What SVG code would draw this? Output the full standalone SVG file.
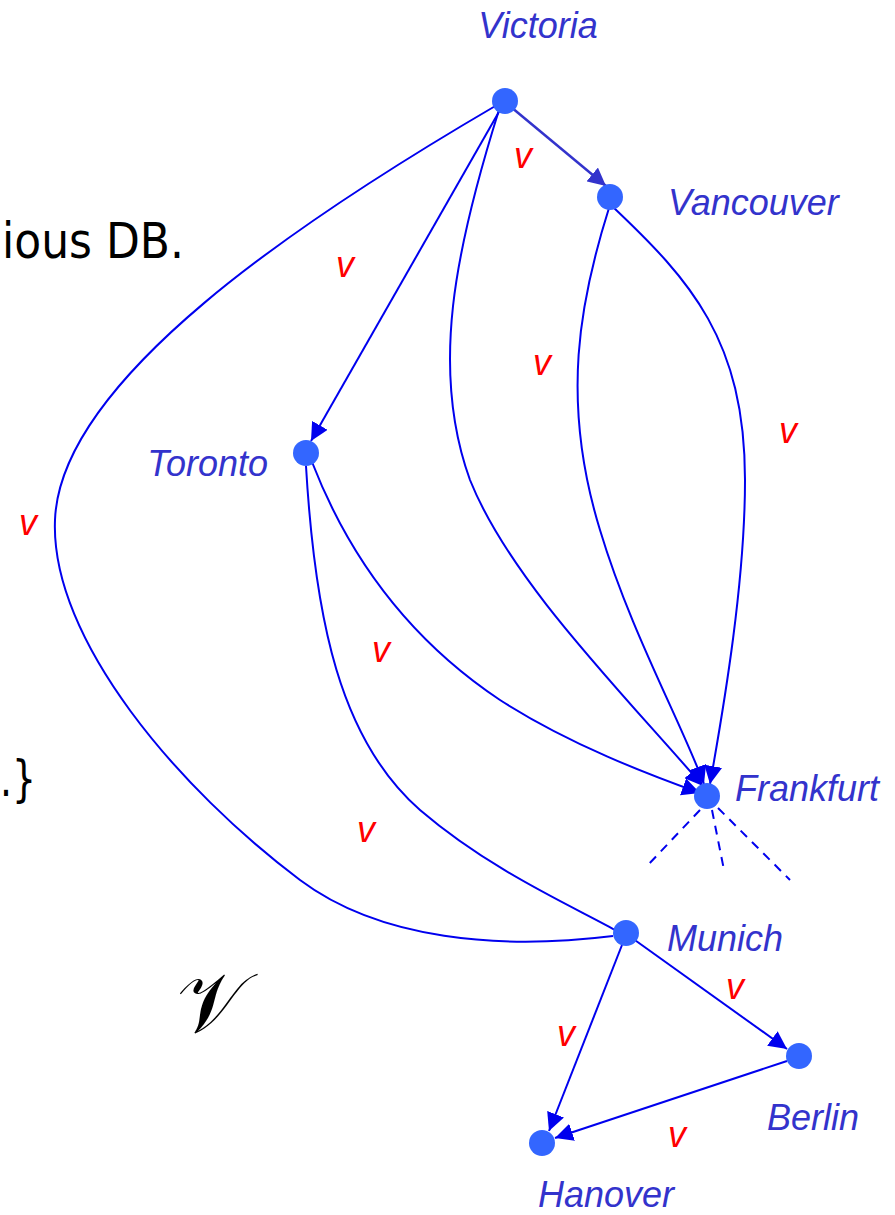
<svg xmlns="http://www.w3.org/2000/svg" width="895" height="1215" viewBox="0 0 895 1215">
<style>
.e{fill:none;stroke:#0000ee;stroke-width:2}
.d{fill:none;stroke:#0000ee;stroke-width:2;stroke-dasharray:9,7}
.n{fill:#3366ff}
.lb{font-family:"Liberation Sans",Arial,sans-serif;font-style:italic;font-size:36px;fill:#3333cc}
.v{font-family:"Liberation Sans",Arial,sans-serif;font-style:italic;font-size:36px;fill:#ff0000;text-anchor:middle}
.t{font-family:"DejaVu Sans",Verdana,sans-serif;font-size:50px;fill:#000}
</style>
<defs>
<marker id="a" markerUnits="userSpaceOnUse" markerWidth="20" markerHeight="18" refX="18" refY="9" orient="auto"><path d="M0,0 L18,9 L0,18 Z" fill="#0000ee"/></marker>
<marker id="a2" markerUnits="userSpaceOnUse" markerWidth="20" markerHeight="18" refX="18" refY="9" orient="auto"><path d="M0,0 L18,9 L0,18 Z" fill="#3333cc"/></marker>
</defs>
<rect width="895" height="1215" fill="#fff"/>
<text class="t" x="2" y="258" textLength="182" lengthAdjust="spacingAndGlyphs">ious DB.</text>
<text class="t" x="0" y="796" textLength="36" lengthAdjust="spacingAndGlyphs">.}</text>
<text x="212" y="1032" text-anchor="middle" font-family="DejaVu Sans, sans-serif" font-size="84">𝒱</text>
<g id="connectors">
<line x1="511" y1="107" x2="606" y2="186" stroke="#3333cc" stroke-width="2.5" marker-end="url(#a2)"/>
<line class="e" x1="500" y1="110" x2="311" y2="441" marker-end="url(#a)"/>
<path class="e" d="M499 110 C455 250,430 370,470 480 C510 580,620 690,703 786" marker-end="url(#a)"/>
<path class="e" d="M609 208 C580 300,560 400,600 530 C630 630,680 720,704 784" marker-end="url(#a)"/>
<path class="e" d="M613 207 C690 280,745 340,745 480 C745 580,725 700,710 784" marker-end="url(#a)"/>
<path class="e" d="M312 462 C350 560,410 640,500 700 C570 745,650 775,700 793" marker-end="url(#a)"/>
<path class="e" d="M306 466 C315 620,340 740,420 810 C490 870,570 905,615 930"/>
<path class="e" d="M497 105 C300 220,60 380,55 520 C50 640,180 790,300 880 C380 940,500 950,613 936"/>
<line class="e" x1="632" y1="938" x2="787" y2="1049" marker-end="url(#a)"/>
<line class="e" x1="622" y1="945" x2="549" y2="1131" marker-end="url(#a)"/>
<line class="e" x1="787" y1="1061" x2="555" y2="1138" marker-end="url(#a)"/>
<line class="d" x1="700" y1="810" x2="647" y2="866"/>
<line class="d" x1="712" y1="810" x2="724" y2="870"/>
<line class="d" x1="718" y1="808" x2="790" y2="880"/>
<text class="v" x="523" y="168">v</text>
<text class="v" x="345" y="277">v</text>
<text class="v" x="542" y="375">v</text>
<text class="v" x="788" y="443">v</text>
<text class="v" x="28" y="535">v</text>
<text class="v" x="381" y="662">v</text>
<text class="v" x="366" y="842">v</text>
<text class="v" x="735" y="999">v</text>
<text class="v" x="566" y="1046">v</text>
<text class="v" x="677" y="1147">v</text>
</g>
<g id="victoria"><circle class="n" cx="505" cy="101" r="13"/><text class="lb" x="538" y="38" text-anchor="middle">Victoria</text></g>
<g id="vancouver"><circle class="n" cx="610" cy="197" r="13"/><text class="lb" x="668" y="215">Vancouver</text></g>
<g id="toronto"><circle class="n" cx="306" cy="453" r="13"/><text class="lb" x="268" y="476" text-anchor="end">Toronto</text></g>
<g id="frankfurt"><circle class="n" cx="707" cy="796" r="13"/><text class="lb" x="735" y="801">Frankfurt</text></g>
<g id="munich"><circle class="n" cx="626" cy="933" r="13"/><text class="lb" x="667" y="951">Munich</text></g>
<g id="berlin"><circle class="n" cx="799" cy="1056" r="13"/><text class="lb" x="767" y="1130">Berlin</text></g>
<g id="hanover"><circle class="n" cx="542" cy="1143" r="13"/><text class="lb" x="538" y="1207">Hanover</text></g>
</svg>
